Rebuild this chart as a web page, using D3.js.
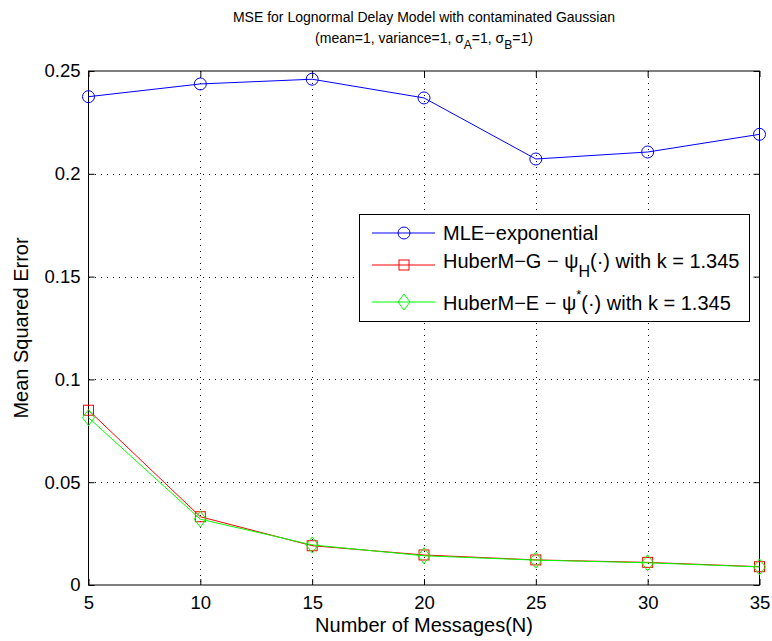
<!DOCTYPE html>
<html>
<head>
<meta charset="utf-8">
<script src="https://cdn.jsdelivr.net/npm/d3@7"></script>
<style>
  body { margin: 0; background: #fff; }
  text { font-family: "Liberation Sans", Arial, Helvetica, sans-serif; fill: #000; }
</style>
</head>
<body>
<svg id="chart" width="772" height="641"></svg>
<script>
// Message counts on the x axis
const messages = [5, 10, 15, 20, 25, 30, 35];
// Mean squared error per estimator
const mleExponential = [0.2375, 0.2437, 0.2460, 0.2369, 0.2072, 0.2106, 0.2192];
const huberG = [0.0850, 0.0332, 0.0191, 0.0146, 0.0122, 0.0110, 0.0089];
const huberE = [0.0814, 0.0320, 0.0195, 0.0142, 0.0121, 0.0108, 0.0088];
// Tick labels
const xTicks = [5, 10, 15, 20, 25, 30, 35];
const yTicks = [0, 0.05, 0.1, 0.15, 0.2, 0.25];
const yTickLabels = ["0", "0.05", "0.1", "0.15", "0.2", "0.25"];

const svg = d3.select("#chart");
const plotLeft = 88.5, plotRight = 759.5, plotTop = 71, plotBottom = 585;

const x = d3.scaleLinear().domain([5, 35]).range([plotLeft, plotRight]);
const y = d3.scaleLinear().domain([0, 0.25]).range([plotBottom, plotTop]);

// Dotted grid
const grid = svg.append("g").attr("stroke", "#000").attr("stroke-width", 1)
  .attr("stroke-dasharray", "1,5").attr("shape-rendering", "crispEdges");
xTicks.slice(1, -1).forEach(v => {
  grid.append("line").attr("x1", Math.round(x(v)) + 0.5).attr("x2", Math.round(x(v)) + 0.5)
    .attr("y1", plotTop).attr("y2", plotBottom);
});
yTicks.slice(1, -1).forEach(v => {
  grid.append("line").attr("x1", plotLeft).attr("x2", plotRight)
    .attr("y1", Math.round(y(v)) + 0.5).attr("y2", Math.round(y(v)) + 0.5);
});

// Axes: ticks pointing inward on all four sides
const tickLen = 6;
const axBottom = d3.axisBottom(x).tickValues(xTicks).tickSize(-tickLen).tickPadding(11).tickFormat(d3.format("d"));
const axTop = d3.axisTop(x).tickValues(xTicks).tickSize(-tickLen).tickFormat("");
const axLeft = d3.axisLeft(y).tickValues(yTicks).tickSize(-tickLen).tickPadding(8)
  .tickFormat((d, i) => yTickLabels[i]);
const axRight = d3.axisRight(y).tickValues(yTicks).tickSize(-tickLen).tickFormat("");

function styleAxis(g) {
  g.select(".domain").remove();
  g.selectAll("line").attr("stroke", "#000");
  g.selectAll("text").style("font-size", "18.5px").attr("fill", "#000");
}
svg.append("g").attr("transform", `translate(0,${plotBottom})`).call(axBottom).call(styleAxis);
svg.append("g").attr("transform", `translate(0,${plotTop})`).call(axTop).call(styleAxis);
svg.append("g").attr("transform", `translate(${plotLeft},0)`).call(axLeft).call(styleAxis);
svg.append("g").attr("transform", `translate(${plotRight},0)`).call(axRight).call(styleAxis);

svg.append("rect").attr("x", plotLeft).attr("y", plotTop).attr("width", plotRight - plotLeft).attr("height", plotBottom - plotTop)
  .attr("fill", "none").attr("stroke", "#000").attr("stroke-width", 1);

// Series
const series = [
  { name: "mle", values: mleExponential, color: "#0000ff", marker: "circle" },
  { name: "huberG", values: huberG, color: "#ff0000", marker: "square" },
  { name: "huberE", values: huberE, color: "#00ff00", marker: "diamond" }
];

function drawMarker(g, type, cx, cy, color) {
  if (type === "circle") {
    g.append("circle").attr("cx", cx).attr("cy", cy).attr("r", 6)
      .attr("fill", "none").attr("stroke", color).attr("stroke-width", 1);
  } else if (type === "square") {
    g.append("rect").attr("x", cx - 5).attr("y", cy - 5).attr("width", 10).attr("height", 10)
      .attr("fill", "none").attr("stroke", color).attr("stroke-width", 1);
  } else {
    g.append("path").attr("d", `M${cx},${cy - 8}L${cx + 6},${cy}L${cx},${cy + 8}L${cx - 6},${cy}Z`)
      .attr("fill", "none").attr("stroke", color).attr("stroke-width", 1);
  }
}

const line = d3.line().x((d, i) => x(messages[i])).y(d => y(d));
series.forEach(s => {
  const g = svg.append("g");
  g.append("path").datum(s.values).attr("d", line)
    .attr("fill", "none").attr("stroke", s.color).attr("stroke-width", 1);
  s.values.forEach((v, i) => drawMarker(g, s.marker, x(messages[i]), y(v), s.color));
});

// Legend
const lg = svg.append("g");
lg.append("rect").attr("x", 359.5).attr("y", 214.5).attr("width", 390).attr("height", 107)
  .attr("fill", "#fff").attr("stroke", "#000").attr("stroke-width", 1);
const legendRows = [233, 265, 302];
series.forEach((s, i) => {
  const yy = legendRows[i];
  lg.append("line").attr("x1", 372).attr("x2", 435).attr("y1", yy).attr("y2", yy)
    .attr("stroke", s.color).attr("stroke-width", 1);
  drawMarker(lg, s.marker, 404, yy, s.color);
});
const legendSize = "20px";
const lt0 = lg.append("text").attr("x", 443).attr("y", 239.5).style("font-size", legendSize);
lt0.text("MLE\u2212exponential");
const lt1 = lg.append("text").attr("x", 443).attr("y", 268).style("font-size", legendSize);
lt1.append("tspan").text("HuberM\u2212G \u2212 \u03c8");
lt1.append("tspan").attr("dy", 9).style("font-size", "16px").text("H");
lt1.append("tspan").attr("dy", -9).text("(\u00b7) with k = 1.345");
const lt2 = lg.append("text").attr("x", 443).attr("y", 309.5).style("font-size", legendSize);
lt2.append("tspan").text("HuberM\u2212E \u2212 \u03c8");
lt2.append("tspan").attr("dy", -11).style("font-size", "13px").text("*");
lt2.append("tspan").attr("dy", 11).text("(\u00b7) with k = 1.345");

// Titles and axis labels
const midX = (plotLeft + plotRight) / 2;
svg.append("text").attr("x", midX).attr("y", 22).attr("text-anchor", "middle").style("font-size", "14px")
  .text("MSE for Lognormal Delay Model with contaminated Gaussian");
const t2 = svg.append("text").attr("x", midX).attr("y", 43).attr("text-anchor", "middle").style("font-size", "14px");
t2.append("tspan").text("(mean=1, variance=1, \u03c3");
t2.append("tspan").attr("dy", 6).style("font-size", "12px").text("A");
t2.append("tspan").attr("dy", -6).text("=1, \u03c3");
t2.append("tspan").attr("dy", 6).style("font-size", "12px").text("B");
t2.append("tspan").attr("dy", -6).text("=1)");

svg.append("text").attr("x", midX).attr("y", 632).attr("text-anchor", "middle").style("font-size", "20px")
  .text("Number of Messages(N)");
svg.append("text").attr("transform", `translate(28,${(plotTop + plotBottom) / 2}) rotate(-90)`)
  .attr("text-anchor", "middle").style("font-size", "20px").text("Mean Squared Error");
</script>
</body>
</html>
